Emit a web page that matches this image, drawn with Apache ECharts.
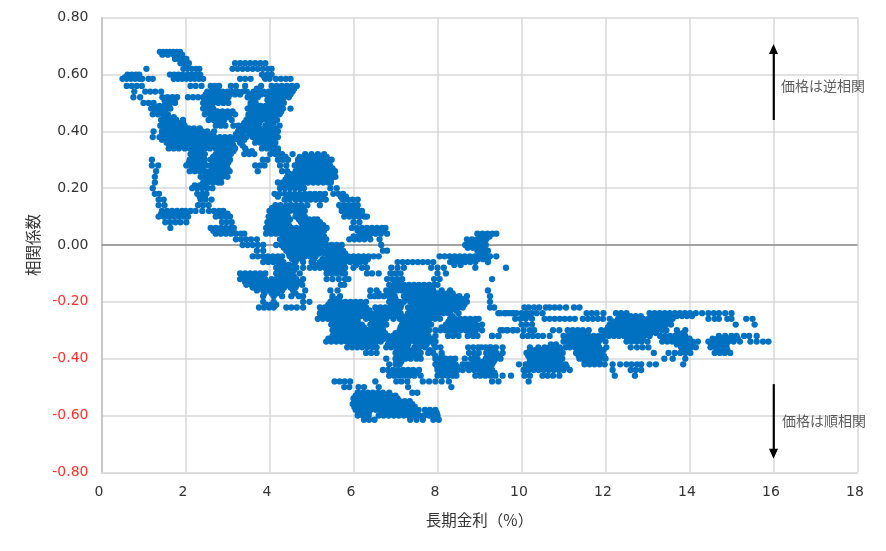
<!DOCTYPE html>
<html><head><meta charset="utf-8">
<script src="https://cdn.jsdelivr.net/npm/echarts@6/dist/echarts.min.js"></script>
<style>html,body{margin:0;padding:0;background:#fff}#c{width:886px;height:551px}</style></head>
<body><div id="c"></div>
<script>
// Each row: [correlation, [long-term yield readings at about that correlation]]
const upperRows = [
[.68,[1.39,1.47,1.55,1.63,1.71,1.79,1.87]],
[.67,[1.45,1.58,1.72,1.84,1.92]],
[.655,[1.75,1.85,1.95,2.02]],
[.64,[1.88,1.98,2.08,3.18,3.3,3.42,3.54,3.66,3.78,3.9]],
[.62,[1.07,1.95,2.05,2.15,2.25,2.33,3.12,3.24,3.36,3.48,3.6,3.72,3.84,3.96,4.05]],
[.6,[.62,.72,.82,.9,1.63,1.73,1.83,1.93,2.05,2.15,2.25,2.35,3.82,3.94,4.05]],
[.585,[.5,.6,.7,.8,.9,.97,1.12,1.22,1.72,1.82,1.92,2.02,2.12,2.22,2.32,2.42,3.3,3.42,3.55,3.9,4.0,4.15,4.27,4.39,4.5]],
[.56,[.6,.72,.84,.96,2.12,2.24,2.38,2.6,2.7,2.8,3.08,3.2,3.42,3.8,4.05,4.17,4.29,4.41,4.53,4.65]],
[.54,[.78,1.04,1.16,1.28,1.42,2.52,2.64,2.78,2.88,3.0,3.12,3.24,3.36,3.46,3.62,3.74,3.86,3.98,4.1,4.22,4.34,4.46,4.55]],
[.52,[.76,.92,1.45,1.57,1.69,1.8,2.06,2.18,2.3,2.42,2.54,2.66,2.78,2.9,3.02,3.48,3.6,3.72,3.98,4.1,4.22,4.34,4.46]],
[.5,[1.0,1.12,1.24,1.52,1.64,1.75,2.42,2.54,2.66,2.78,2.9,3.02,3.55,3.67,4.02,4.14,4.26,4.34]],
[.48,[1.18,1.3,1.42,1.54,1.64,2.42,2.54,2.66,3.48,3.6,3.72,3.84,3.96,4.08,4.2,4.32,4.5]],
[.46,[1.22,1.34,1.46,1.58,2.46,2.58,2.7,2.82,2.94,3.06,3.18,3.5,3.62,3.74,3.86,3.98,4.1,4.24]],
[.44,[1.42,1.54,1.66,1.78,1.94,2.55,2.67,2.8,2.92,3.1,3.45,3.57,3.69,3.81,3.93,4.05,4.18]],
[.42,[1.4,1.52,1.64,1.76,1.88,1.98,2.72,2.84,2.95,3.14,3.26,3.38,3.5,3.62,3.74,3.9,4.02,4.24]],
[.4,[1.24,1.44,1.56,1.68,1.8,1.92,2.04,2.16,2.28,2.4,2.52,2.68,3.25,3.37,3.49,3.61,3.73,3.85,3.97,4.09,4.2]],
[.38,[1.22,1.38,1.5,1.62,1.74,1.86,1.98,2.1,2.22,2.34,2.46,2.58,2.7,2.82,2.94,3.06,3.18,3.3,3.45,3.6,3.72,3.84,3.96,4.08,4.2]],
[.36,[1.55,1.67,1.79,1.91,2.03,2.15,2.27,2.39,2.51,2.63,2.75,2.87,2.99,3.11,3.3,3.66,3.78,3.9,4.02,4.14]],
[.34,[1.6,1.72,1.84,1.98,2.1,2.22,2.34,2.46,2.58,2.72,2.82,2.94,3.06,3.18,3.42,3.82,3.94,4.06,4.2]],
[.32,[2.12,2.24,2.36,2.46,2.72,2.84,2.96,3.08,3.4,3.52,3.64,4.02,4.14,4.3,4.55,4.85,5.0,5.15,5.3]],
[.3,[1.2,2.1,2.22,2.34,2.46,2.6,2.72,2.84,2.96,3.06,3.84,3.95,4.2,4.32,4.44,4.68,4.8,4.92,5.04,5.16,5.28,5.4,5.48]],
[.28,[1.2,1.35,2.02,2.14,2.26,2.38,2.5,2.62,2.74,2.86,2.98,3.66,3.78,3.88,4.25,4.4,4.6,4.72,4.84,4.96,5.08,5.2,5.32,5.44]],
[.26,[1.3,2.1,2.22,2.34,2.45,2.58,2.7,2.82,2.94,3.05,3.72,4.3,4.42,4.62,4.74,4.86,4.98,5.1,5.22,5.34,5.46,5.56]],
[.24,[1.27,2.36,2.46,2.52,2.64,2.76,2.88,3.0,4.42,4.54,4.66,4.78,4.9,5.02,5.14,5.26,5.38,5.5,5.57]],
[.22,[1.27,2.42,2.54,2.66,2.78,2.85,4.2,4.32,4.44,4.56,4.68,4.8,4.92,5.04,5.16,5.28,5.4,5.46]],
[.2,[1.22,2.16,2.28,2.4,2.52,2.64,4.25,4.37,4.49,4.61,4.73,4.82,5.45,5.6]],
[.18,[1.27,1.37,2.28,2.4,2.5,4.12,4.24,4.36,4.48,4.6,4.72,4.84,4.96,5.08,5.2,5.32,5.52,5.64,5.75]],
[.16,[1.36,1.48,2.36,2.48,2.62,4.36,4.48,4.62,4.74,4.86,4.98,5.1,5.22,5.34,5.74,5.86,5.98,6.1]],
[.14,[1.36,1.5,2.3,2.42,2.55,4.14,4.26,4.4,4.52,4.64,4.76,4.9,5.2,5.66,5.78,5.9,6.02,6.1]],
[.12,[1.44,1.56,1.68,1.8,1.92,2.0,2.12,2.24,2.4,2.56,2.68,2.8,2.9,4.0,4.12,4.24,4.36,4.48,4.6,4.72,4.84,5.72,5.84,5.96,6.08,6.2]],
[.1,[1.36,1.48,1.6,1.72,1.84,1.96,2.06,2.72,2.84,2.96,3.06,3.98,4.1,4.22,4.34,4.44,4.62,4.74,4.84,5.78,5.9,6.02,6.14,6.26,6.32]],
[.08,[1.52,1.64,1.76,1.88,2.02,2.87,2.98,3.1,3.95,4.07,4.19,4.31,4.43,4.75,4.87,4.99,5.11,5.2,6.0,6.14]],
[.06,[1.64,2.6,2.72,2.84,2.96,3.08,3.15,3.92,4.04,4.16,4.28,4.4,4.52,4.64,4.76,4.88,5.0,5.12,5.24,5.36,5.96,6.08,6.2,6.32,6.44,6.56,6.68,6.76]]
];
const middleRows = [
[.04,[2.72,2.84,2.96,3.08,3.2,3.32,3.4,3.92,4.04,4.16,4.28,4.4,4.52,4.64,4.76,4.88,5.0,5.12,5.24,6.17,6.29,6.41,6.53,6.65,6.8,8.95,9.07,9.19,9.31,9.4]],
[.02,[3.2,3.32,3.44,3.56,3.7,4.25,4.4,4.52,4.64,4.76,4.88,5.0,5.12,5.22,5.35,5.9,6.02,6.14,6.26,6.4,6.62,8.7,8.82,8.94,9.06,9.16]],
[0,[3.36,3.48,3.6,3.72,3.85,4.16,4.28,4.4,4.52,4.64,4.76,4.88,5.0,5.12,5.3,5.36,5.48,5.6,5.72,6.66,8.66,8.78,8.9,9.02,9.15]],
[-.02,[3.7,3.85,4.4,4.52,4.64,4.76,4.88,5.0,5.12,5.24,5.36,5.5,5.62,5.75,6.7,6.8,8.95,9.07,9.2]],
[-.04,[3.6,3.72,3.84,3.96,4.08,4.2,4.3,4.48,4.6,4.72,4.84,4.96,5.1,5.4,5.52,5.64,5.76,5.88,6,6.12,6.24,6.36,6.48,6.6,8.05,8.17,8.29,8.41,8.53,8.65,8.77,8.89,9.01,9.13,9.25,9.4]],
[-.06,[3.85,3.97,4.09,4.21,4.33,4.62,4.8,5.0,5.2,5.32,5.44,5.56,5.68,5.8,5.92,6.04,6.16,6.28,7.05,7.17,7.29,7.41,7.53,7.65,7.77,7.9,8.3,8.42,8.54,8.66,8.78,8.9,9.2]],
[-.08,[4.16,4.28,4.4,4.52,4.64,4.8,4.96,5.08,5.2,5.32,5.44,5.56,5.7,5.8,6.0,6.2,6.32,6.9,7.05,7.2,7.85,8.0,8.15,8.9,9.63]],
[-.1,[3.3,3.42,3.54,3.66,3.78,3.9,4.16,4.28,4.4,4.52,4.72,5.36,5.48,5.6,5.72,5.8,6.32,6.44,6.6,6.88,7.0,7.12,8.0,8.2]],
[-.12,[3.3,3.42,3.54,3.66,3.78,3.9,4.05,4.16,4.28,4.4,4.52,4.64,4.8,5.36,5.5,5.65,5.8,5.88,6.8,6.92,7.04,7.16,7.92,8.05,9.3]],
[-.14,[3.45,3.57,3.69,3.81,3.93,4.05,4.17,4.29,4.41,4.53,4.65,4.78,5.7,5.78,6.85,6.97,7.1,7.2,7.32,7.44,7.56,7.68,7.8,7.92,8.0]],
[-.16,[3.7,3.85,4.0,4.12,4.3,4.56,4.85,5.45,5.62,6.4,6.55,6.78,6.9,7.05,7.15,7.3,7.42,7.54,7.66,7.78,7.9,8.1,8.3,9.2]],
[-.18,[3.85,4.1,4.3,4.52,4.7,4.8,5.5,5.68,6.4,6.5,6.6,6.72,6.84,6.98,7.2,7.32,7.44,7.56,7.68,7.8,7.92,8.04,8.16,8.28,8.4,8.52,8.7,9.25]],
[-.2,[3.85,4.1,4.8,4.95,5.45,5.57,5.69,5.81,5.93,6.05,6.17,6.3,6.85,6.97,7.09,7.2,7.35,7.5,7.62,7.74,7.86,7.98,8.1,8.22,8.34,8.46,8.58,8.7,9.25]],
[-.22,[3.75,3.87,3.99,4.1,4.4,4.52,4.65,4.8,5.2,5.32,5.44,5.56,5.68,5.8,5.92,6.04,6.16,6.3,6.52,6.64,6.76,6.88,7.0,7.12,7.3,7.42,7.54,7.66,7.78,7.9,8.02,8.14,8.26,8.38,8.5,8.6,9.25,9.35]],
[-.24,[5.2,5.32,5.44,5.56,5.68,5.8,5.92,6.04,6.16,6.28,6.4,6.52,6.64,6.78,6.88,7.0,7.12,7.3,7.42,7.54,7.66,7.78,7.9,8.02,8.14,8.26,8.5,9.45,9.6,9.8]],
[-.26,[5.15,5.27,5.39,5.51,5.63,5.75,5.87,5.99,6.1,6.3,6.42,6.54,6.66,6.78,6.95,7.1,7.22,7.34,7.46,7.58,7.7,7.82,7.94,8.06,8.3,8.42,8.54,8.66,8.78,8.9,8.98]],
[-.28,[5.47,5.59,5.71,5.83,5.95,6.07,6.2,6.4,6.52,6.64,6.78,7.15,7.27,7.39,7.51,7.63,7.75,7.85,8.2,8.32,8.44,8.56,8.68,8.8,8.92,9.06]],
[-.3,[5.5,5.62,5.74,5.86,5.98,6.1,6.22,6.34,6.46,6.6,6.7,7.1,7.22,7.34,7.46,7.58,7.7,7.8,7.95,8.07,8.19,8.31,8.43,8.55,8.67,8.79,8.91,9.06,9.5,9.65,9.8]],
[-.32,[5.5,5.62,5.74,5.86,5.98,6.1,6.22,6.34,6.46,6.58,6.7,6.82,6.94,7.06,7.18,7.3,7.42,7.54,7.66,7.78,7.95,8.25,8.37,8.5,8.72,8.85,8.95,9.3,9.45]],
[-.34,[5.35,5.47,5.59,5.71,5.83,5.95,6.07,6.19,6.31,6.43,6.55,6.65,6.85,6.97,7.09,7.21,7.33,7.45,7.57,7.69,7.81,7.95]],
[-.36,[5.85,5.97,6.09,6.21,6.33,6.45,6.55,6.78,6.9,7.02,7.14,7.28,7.45,7.57,7.7,7.95,8.07,8.73,8.85,8.97,9.15,9.27,9.39,9.55]],
[-.38,[6.3,6.42,6.55,7.0,7.12,7.24,7.36,7.48,7.6,7.78,7.9,8.1,8.75,8.87,8.98,9.16,9.28,9.4,9.55]],
[-.4,[6.78,7.0,7.12,7.24,7.36,7.5,7.6,7.95,8.07,8.19,8.31,8.42,8.65,8.8,8.95,9.15,9.27,9.39,9.5]],
[-.42,[6.85,7.0,7.1,7.95,8.07,8.19,8.31,8.43,8.6,8.72,8.84,8.96,9.08,9.2,9.3,9.94]],
[-.44,[6.7,6.82,6.94,7.06,7.18,7.3,7.42,7.56,8.0,8.12,8.24,8.36,8.48,8.6,8.75,8.87,8.99,9.11,9.23,9.3,10.1]],
[-.46,[6.85,6.97,7.09,7.21,7.33,7.45,7.6,8.0,8.12,8.24,8.36,8.45,8.9,9.02,9.14,9.26,9.38,9.55,9.75]],
[-.48,[5.55,5.67,5.79,5.92,6.52,7.02,7.14,7.28,7.65,7.8,7.95,8.1,8.27,9.3,9.45,10.17]]
];
const lowerRows = [
[-.5,[5.78,5.9,6.12,6.25,6.6,7.3,8.33]],
[-.52,[6.1,6.22,6.34,6.46,6.58,6.7,6.85,7.4,7.52]],
[-.54,[6.0,6.12,6.24,6.36,6.48,6.6,6.72,6.84,6.95,7.05]],
[-.56,[5.98,6.1,6.22,6.34,6.46,6.58,6.7,6.82,6.94,7.06,7.18,7.32,7.4]],
[-.58,[6.05,6.17,6.29,6.41,6.53,6.65,6.77,6.89,7.01,7.13,7.25,7.37,7.55,7.7,7.82,7.95]],
[-.6,[6.1,6.22,6.36,6.6,6.72,6.84,6.96,7.08,7.2,7.32,7.44,7.56,7.68,7.8,7.92,8.0]],
[-.615,[6.25,6.37,6.5,7.35,7.5,7.65,7.9,8.03]]
];
const rightRows = [
[-.22,[10.07,10.17,10.3,10.42,10.58,10.67,10.79,10.91,11.06,11.25,11.38]],
[-.24,[9.5,9.62,9.7,9.78,9.88,10.0,10.12,10.24,10.36,10.5,11.55,11.67,11.79,11.95,12.25,12.37,12.5,13.05,13.17,13.29,13.41,13.53,13.65,13.77,13.89,14.01,14.15,14.3,14.45,14.58,14.7,14.85,15.0]],
[-.26,[9.85,9.97,10.1,10.25,10.55,10.67,10.79,10.91,11.03,11.15,11.27,11.46,11.58,11.7,11.82,11.94,12.1,12.3,12.42,12.54,12.66,12.78,12.9,13.02,13.14,13.26,13.38,13.5,13.6,14.45,14.6,14.7,14.9,15.0,15.35,15.5]],
[-.28,[10.0,10.12,10.25,12.1,12.24,12.36,12.48,12.6,12.72,12.84,12.96,13.08,13.2,13.32,13.44,13.56,15.1,15.55]],
[-.3,[9.55,9.67,9.8,9.9,10.05,10.2,10.3,10.75,10.9,11.1,11.22,11.34,11.46,11.6,11.9,12.02,12.14,12.26,12.38,12.5,12.62,12.74,12.86,12.98,13.1,13.22,13.34,13.45,13.7,13.9]],
[-.32,[9.3,9.45,10.03,10.15,10.27,10.39,10.51,10.67,11.0,11.12,11.24,11.36,11.48,11.6,11.72,11.84,11.96,12.08,12.2,12.32,12.44,12.56,12.68,12.8,12.92,13.05,13.3,13.42,13.54,13.66,13.78,13.9,14.7,14.85,15.0,15.12,15.3,15.42,15.6]],
[-.34,[11.0,11.12,11.24,11.36,11.48,11.6,11.72,11.84,12.0,12.5,12.62,12.74,12.86,13.0,13.35,13.47,13.59,13.71,13.83,13.95,14.07,14.2,14.45,14.57,14.69,14.81,14.93,15.05,15.2,15.45,15.6,15.75,15.88]],
[-.36,[9.05,9.25,10.2,10.4,10.55,10.67,10.79,10.91,11.05,11.15,11.27,11.39,11.51,11.63,11.75,11.85,12.02,12.6,12.75,12.88,13.02,13.8,13.92,14.04,14.15,14.5,14.62,14.74,14.88]],
[-.38,[10.12,10.24,10.36,10.48,10.6,10.72,10.84,10.98,11.3,11.42,11.54,11.66,11.78,11.9,13.15,13.5,13.65,13.78,13.9,14.02,14.6,14.72,14.84,14.97]],
[-.4,[10.2,10.32,10.44,10.56,10.68,10.8,10.97,11.38,11.5,11.62,11.74,11.86,12.0,13.4,13.6,13.9]],
[-.42,[10.1,10.22,10.34,10.46,10.58,10.7,10.82,10.94,11.05,11.5,11.62,11.74,11.86,11.98,12.17,12.35,12.5,12.62,12.75,12.85,13.05,13.2,13.85]],
[-.44,[10.05,10.17,10.29,10.41,10.53,10.65,10.77,10.89,11.0,11.15,12.17,12.6,12.72,12.85]],
[-.46,[10.07,10.2,10.5,10.62,10.75,10.9,12.22,12.7]]
];
// Readings that fall between the rows above, in the densely packed patches
const betweenRows = [
[.59,[.56,.68,.8,1.78,1.88,2.0,2.1,2.2,2.3,3.88,3.99]],
[.55,[2.66,2.75,3.7,4.11,4.23,4.35,4.47,4.59]],
[.53,[2.48,2.6,2.72,2.84,2.95,3.06,3.18,3.3,3.56,3.68,3.8,3.92,4.04,4.16,4.28,4.4,4.5]],
[.51,[1.5,1.62,1.74,2.48,2.6,2.72,2.84,2.96,3.6,3.95,4.08,4.2,4.32]],
[.49,[1.25,1.38,1.5,1.6,2.48,2.6,3.55,3.67,3.79,3.91,4.03,4.15,4.27]],
[.47,[1.28,1.4,1.52,2.5,2.62,2.76,2.88,3.0,3.12,3.56,3.68,3.8,3.92,4.04,4.16,4.28]],
[.45,[1.48,1.6,1.72,2.6,2.74,2.86,2.98,3.5,3.62,3.76,3.88,4.0,4.12]],
[.43,[1.46,1.58,1.7,1.82,1.94,2.78,2.9,3.4,3.52,3.64,3.76,3.98,4.1]],
[.41,[1.48,1.6,1.72,1.84,1.96,2.08,2.2,2.34,3.28,3.4,3.52,3.64,3.76,3.9,4.02,4.14]],
[.39,[1.44,1.56,1.68,1.8,1.92,2.04,2.16,2.28,2.4,2.52,2.64,3.2,3.34,3.5,3.66,3.78,3.9,4.02,4.14]],
[.37,[1.44,1.56,1.7,1.82,1.94,2.06,2.18,2.3,2.42,2.54,2.66,2.78,2.9,3.02,3.14,3.26,3.4,3.72,3.84,3.96,4.08]],
[.35,[1.62,1.74,1.88,2.04,2.16,2.28,2.4,2.52,2.66,2.78,2.9,3.02,3.14,3.36,3.86,3.98,4.1]],
[.33,[2.16,2.28,2.4,2.78,2.9,3.02,3.14,3.46,3.58,4.08,4.2]],
[.31,[2.16,2.28,2.4,2.66,2.78,2.9,3.02,4.26,4.38,4.72,4.84,4.96,5.08,5.22,5.36]],
[.29,[2.08,2.2,2.32,2.44,2.66,2.78,2.9,3.02,4.68,4.8,4.92,5.04,5.16,5.28,5.4]],
[.27,[2.16,2.28,2.4,2.64,2.76,2.88,3.0,4.68,4.8,4.92,5.04,5.16,5.28,5.4,5.5]],
[.25,[2.5,2.6,2.72,2.84,2.96,4.48,4.6,4.72,4.84,4.96,5.08,5.2,5.32,5.44,5.54]],
[.23,[2.48,2.6,2.72,2.82,4.38,4.5,4.62,4.74,4.86,4.98,5.1,5.22,5.34,5.46]],
[.21,[2.22,2.34,2.46,4.31,4.43,4.55,4.67,4.79]],
[.17,[2.34,2.46,4.2,4.42,4.54,4.66,4.78,4.9,5.02,5.14,5.26,5.7,5.82]],
[.13,[4.06,4.18,4.3,4.44,4.56,4.68,4.8,5.72,5.84,5.96,6.08]],
[.11,[1.42,1.54,1.66,1.78,1.9,2.02,2.76,2.88,3.0,4.04,4.16,4.28,4.4,4.66,4.78,5.84,5.96,6.08,6.2]],
[.09,[4.01,4.13,4.25,4.37,4.49,4.7,4.82,4.94,5.06,5.14]],
[.07,[3.98,4.1,4.22,4.34,4.46,4.8,4.92,5.04,5.16,5.28]],
[.05,[2.66,2.78,2.9,3.02,3.14,3.98,4.1,4.22,4.34,4.46,4.58,4.7,4.82,4.94,5.06,5.18,5.3,6.1,6.23,6.35,6.47,6.59,6.71]],
[.03,[4.34,4.46,4.58,4.7,4.82,4.94,5.06,5.18,5.3,6.0,6.12,6.24,6.36,9.0,9.12,9.24]],
[.01,[4.34,4.46,4.58,4.7,4.82,4.94,5.06,5.18,5.3,8.72,8.84,8.96,9.08]],
[-.01,[4.34,4.46,4.58,4.7,4.82,4.94,5.06,5.18,5.42,5.54,5.66,8.72,8.84,8.96,9.1]],
[-.03,[4.46,4.58,4.7,4.82,4.94,5.06,5.18,5.3,5.44,5.56,5.68,5.8,9.0,9.14]],
[-.05,[3.9,4.02,4.14,4.26,4.54,4.66,4.78,5.06,5.26,5.38,5.5,5.62,5.74,5.86,5.98,6.1,6.22,6.34,8.36,8.48,8.6,8.72,8.84,8.96,9.08,9.2]],
[-.07,[4.22,4.34,4.46,4.58,5.1,5.22,5.34,5.46,5.58,5.7,6.06,8.4,8.55]],
[-.09,[4.22,4.34,4.46,4.58,5.4,5.52,5.64,5.76]],
[-.11,[3.36,3.48,3.6,3.72,3.84,4.22,4.34,4.46,4.58]],
[-.13,[3.42,3.54,3.66,3.78,3.9,4.02,4.14,4.26,4.38,4.5,4.62,4.74,7.0,7.12]],
[-.15,[3.6,3.72,3.84,3.96,4.08,4.2,4.35,4.5,4.62,6.9,7.02,7.14,7.26,7.38,7.5,7.62,7.74,7.86]],
[-.17,[3.88,4.05,4.18,4.62,6.6,6.82,6.94,7.26,7.38,7.5,7.62,7.74,7.86,8.0,8.12,8.24,8.36]],
[-.19,[5.5,5.62,6.88,7.0,7.26,7.38,7.5,7.62,7.74,7.86,7.98,8.1,8.22,8.34,8.46,8.58]],
[-.21,[3.92,4.04,4.16,5.4,5.52,5.64,5.76,5.88,6.0,6.12,6.24,6.9,7.02,7.14,7.42,7.56,7.68,7.8,7.92,8.04,8.16,8.28,8.4,8.52,8.64]],
[-.23,[5.3,5.42,5.54,5.66,5.78,5.9,6.02,6.14,6.26,6.38,6.58,6.7,6.82,6.94,7.06,7.36,7.48,7.6,7.72,7.84,7.96,8.08,8.2,8.32,8.44]],
[-.25,[5.22,5.34,5.46,5.58,5.7,5.82,5.94,6.06,6.18,6.36,6.48,6.6,6.72,6.84,7.0,7.16,7.28,7.4,7.52,7.64,7.76,7.88,8.0,8.36]],
[-.27,[5.5,5.62,5.74,5.86,5.98,6.1,6.45,6.57,6.69,7.18,7.3,7.42,7.54,7.66,7.78,8.26,8.38,8.5,8.62,8.74,8.86]],
[-.29,[5.53,5.65,5.77,5.89,6.01,6.13,6.25,6.45,6.57,6.69,7.12,7.24,7.36,7.48,7.6,7.72,8.1,8.22,8.34,8.46,8.58,8.7,8.82,8.94]],
[-.31,[5.55,5.67,5.79,5.91,6.03,6.15,6.27,6.39,6.51,6.63,6.75,7.0,7.12,7.24,7.36,7.48,7.6,7.72,8.3,8.42,8.78,8.9]],
[-.33,[5.4,5.52,5.64,5.76,5.88,6.0,6.12,6.24,6.36,6.48,6.6,6.72,6.9,7.02,7.14,7.26,7.38,7.5,7.62,7.74,7.86]],
[-.35,[5.9,6.02,6.14,6.26,6.38,6.5,6.82,6.94,7.06,7.18,7.3,7.5,7.62,7.74,7.92]],
[-.37,[7.05,7.17,7.29,7.41,7.53,7.82,9.2,9.32]],
[-.39,[7.05,7.17,7.29,7.41,7.55,7.95,8.1,8.9,9.2,9.32,9.44]],
[-.41,[7.02,7.14,8.0,8.12,8.24,8.36,8.85,8.98,9.1,9.22,9.34]],
[-.43,[8.0,8.12,8.24,8.36,8.48,8.72,8.84,8.96,9.08,9.2]],
[-.45,[6.9,7.02,7.14,7.26,7.38,7.5,8.05,8.17,8.29,8.41,9.0,9.12,9.24,9.36]],
[-.53,[6.05,6.17,6.29,6.41,6.53,6.65,6.77,6.89,7.0]],
[-.55,[6.02,6.14,6.26,6.38,6.5,6.62,6.74,6.86,6.98,7.1,7.22,7.34]],
[-.57,[6.02,6.14,6.26,6.38,6.5,6.62,6.74,6.86,6.98,7.1,7.22,7.34,7.46]],
[-.59,[6.12,6.24,6.36,6.66,6.78,6.9,7.02,7.14,7.26,7.38,7.5,7.75,7.87,7.98]],
[-.25,[10.05,10.17,12.36,12.48,12.6,12.72,12.84,13.1,13.22,13.34,13.46,13.58,13.7,13.82,13.94,14.06]],
[-.27,[12.2,12.3,12.42,12.54,12.66,12.78,12.9,13.02,13.14,13.26,13.38,13.5]],
[-.29,[12.06,12.18,12.3,12.42,12.54,12.66,12.78,12.9,13.02,13.14,13.26,13.38]],
[-.31,[11.2,11.32,11.44,11.56,12.0,12.12,12.24,12.36,12.48,12.6,12.72,12.84,12.96,13.08,13.2,13.72,13.84]],
[-.33,[11.06,11.18,11.3,11.42,11.54,11.66,11.78,11.9,12.52,12.64,12.76,12.88,13.4,13.52,13.64,13.76,13.88,14.0,14.55,14.67,14.79,14.91,15.03,15.15]],
[-.35,[10.7,10.82,11.1,11.22,11.34,11.46,11.58,11.7,11.82,13.7,13.84,13.96,14.08,14.52,14.64,14.76,14.88]],
[-.37,[10.2,10.32,10.44,10.56,10.68,10.8,10.92,11.35,11.47,11.59,11.71,11.83,11.95,13.85,13.97,14.65,14.77,14.9]],
[-.39,[10.16,10.28,10.4,10.52,10.64,10.76,10.88,11.36,11.48,11.6,11.72,11.84,11.96]],
[-.41,[10.2,10.32,10.44,10.56,10.68,10.8,10.92,11.5,11.62,11.74,11.86]],
[-.43,[10.1,10.22,10.34,10.46,10.58,10.7,10.82,10.94,11.08]]
];
const xTickMax = 18, yTickMin = -.8, yTickMax = .8;
const axisTitleX = '長期金利（%）', axisTitleY = '相関係数';
const noteUp = '価格は逆相関', noteDown = '価格は順相関';
const arrowUp = [[16,.44],[16,.69]], arrowDown = [[16,-.49],[16,-.735]];
const zeroLine = [[0,0],[18,0]];

const points = [];
[upperRows, middleRows, lowerRows, rightRows, betweenRows].forEach(rows =>
  rows.forEach(([y, xs]) => xs.forEach(x => points.push([x, y]))));

const font = '"DejaVu Sans", Verdana, sans-serif';
const jp = '"Noto Sans CJK JP", sans-serif';
const chart = echarts.init(document.getElementById('c'), null, {renderer:'canvas'});
const arrow = (pts) => ({
  type:'line', data:pts, symbol:'none', silent:true, z:5, animation:false,
  lineStyle:{color:'#000', width:1.6},
  markLine:{silent:true, animation:false, symbol:['none','triangle'], symbolSize:[9,10], label:{show:false},
    lineStyle:{color:'#000', width:1.6, type:'solid'},
    data:[[{coord:pts[0]},{coord:pts[1]}]]}
});
chart.setOption({
  animation:false,
  backgroundColor:'#fff',
  grid:{left:101.5, top:17.7, width:756, height:454.6, containLabel:false},
  xAxis:{type:'value', min:0, max:xTickMax, interval:2,
    name:axisTitleX, nameLocation:'middle', nameGap:40,
    nameTextStyle:{fontFamily:jp, fontSize:15.5, color:'#333'},
    axisLine:{onZero:false, show:true, lineStyle:{color:'#d9d9d9', width:1.5}},
    axisTick:{show:false},
    axisLabel:{fontFamily:font, fontSize:14, color:'#333', margin:13, padding:[0,5,0,0]},
    splitLine:{show:true, lineStyle:{color:'#d9d9d9', width:1.5}}},
  yAxis:{type:'value', min:yTickMin, max:yTickMax, interval:.2,
    name:axisTitleY, nameLocation:'middle', nameGap:61,
    nameTextStyle:{fontFamily:jp, fontSize:15.5, color:'#333'},
    axisLine:{show:true, lineStyle:{color:'#bfbfbf', width:1.5}},
    axisTick:{show:false},
    axisLabel:{fontFamily:font, fontSize:14, margin:13,
      formatter:v => v.toFixed(2),
      color:v => v < 0 ? '#ff3030' : '#333'},
    splitLine:{show:true, lineStyle:{color:'#d9d9d9', width:1.5}}},
  series:[
    {type:'line', data:zeroLine, symbol:'none', silent:true, z:1, lineStyle:{color:'#8c8c8c', width:1.5}},
    {type:'scatter', data:points, symbolSize:6.3, z:2, silent:true, large:false,
      itemStyle:{color:'#0070c0', opacity:1}},
    arrow(arrowUp), arrow(arrowDown),
    {type:'scatter', silent:true, symbolSize:0, z:6,
      data:[{value:[16.18,.56],label:{formatter:noteUp}},{value:[16.2,-.62],label:{formatter:noteDown}}],
      label:{show:true, position:'right', distance:0, fontFamily:jp, fontSize:14, color:'#333'}}
  ]
});
</script></body></html>
